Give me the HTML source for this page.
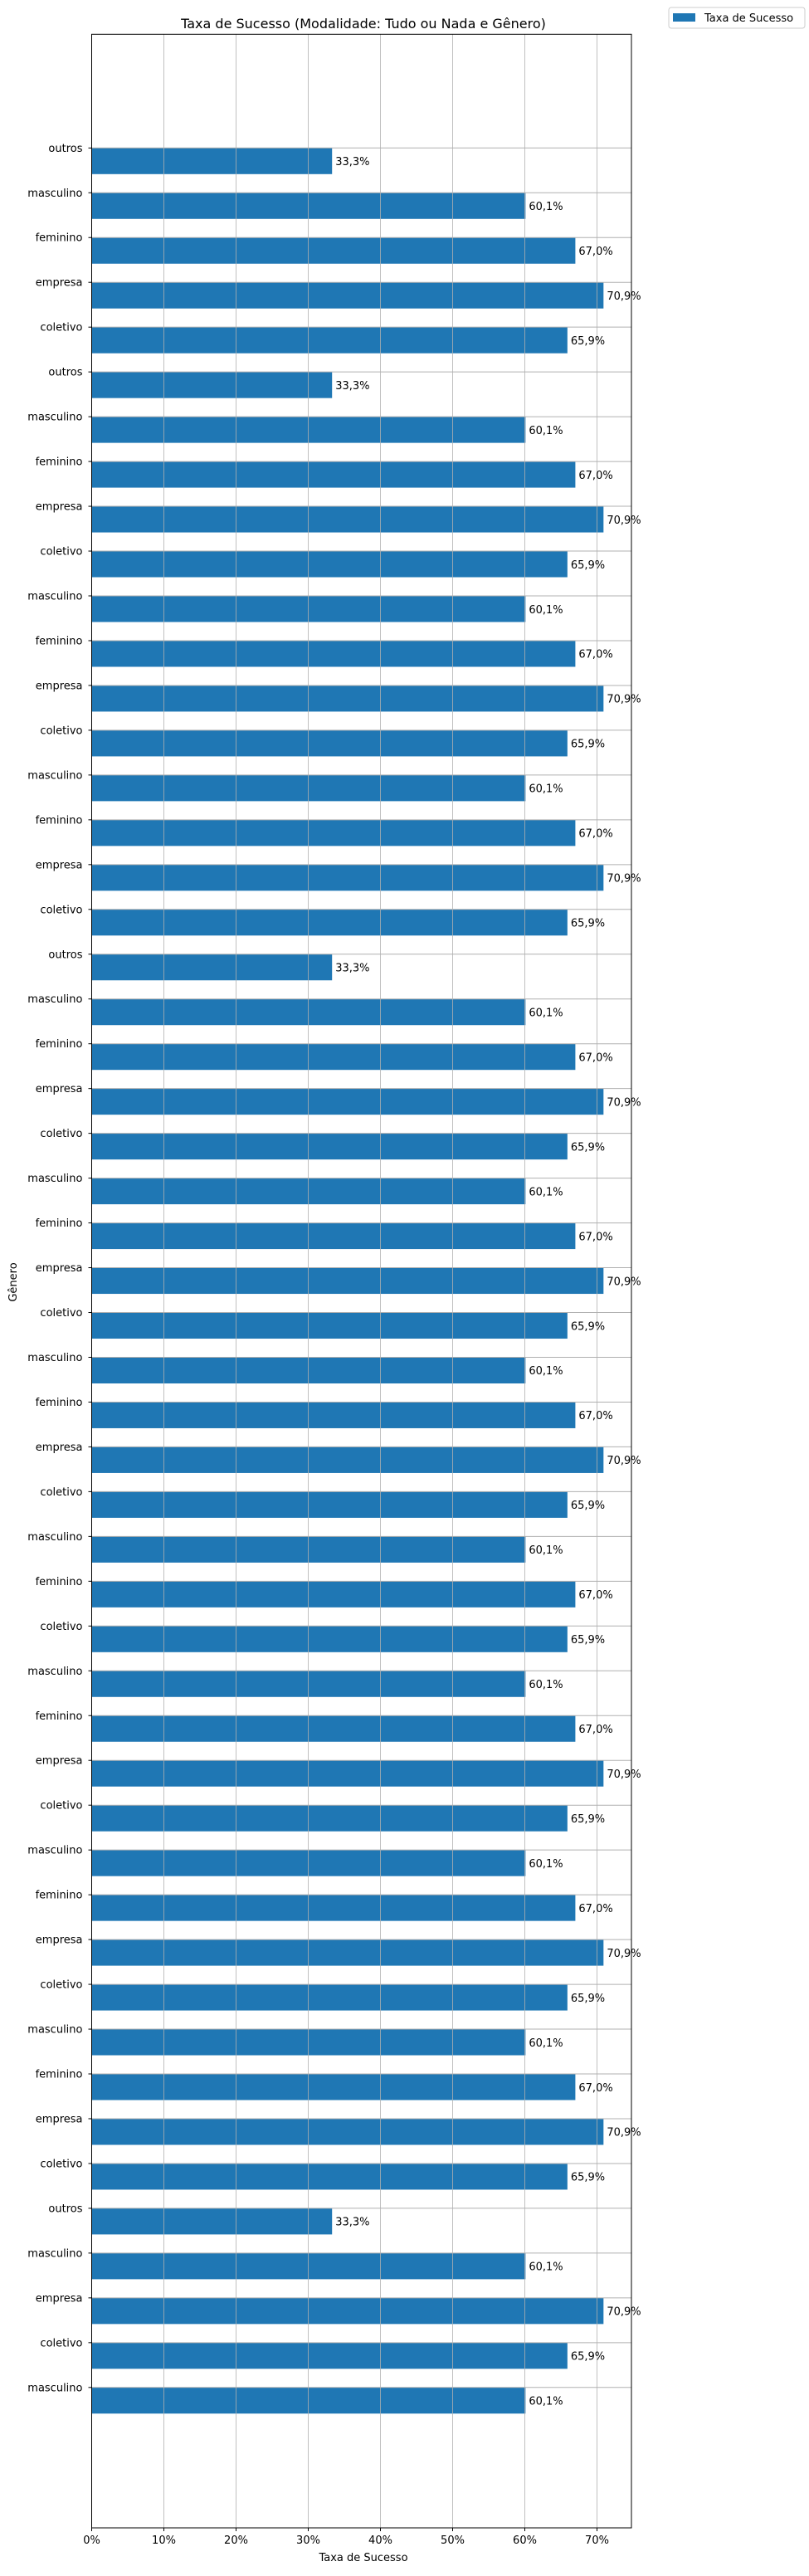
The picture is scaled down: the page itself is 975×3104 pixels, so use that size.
<!DOCTYPE html>
<html><head><meta charset="utf-8"><style>
body{margin:0;background:#fff;}
svg text{font-family:"DejaVu Sans","Liberation Sans",sans-serif;fill:#000;}
</style></head><body>
<svg id="chart" width="975" height="3099" xmlns="http://www.w3.org/2000/svg">
<text x="438" y="34" font-size="16" text-anchor="middle">Taxa de Sucesso (Modalidade: Tudo ou Nada e Gênero)</text>
<g id="bars"></g>
<g id="grid"></g>
<g id="labels"></g>
<g id="axes"></g>
<text x="20" y="1545" font-size="13" text-anchor="middle" transform="rotate(-90 20 1545)">Gênero</text>
<text x="438" y="3086" font-size="13" text-anchor="middle">Taxa de Sucesso</text>
<g>
<rect x="806" y="9" width="164" height="25" rx="3" fill="#fff" stroke="#ccc"/>
<rect x="811" y="16" width="27" height="10" fill="#1f77b4"/>
<text x="849" y="26" font-size="13">Taxa de Sucesso</text>
</g>
</svg>
<script>
const categories=["outros","masculino","feminino","empresa","coletivo","outros","masculino","feminino","empresa","coletivo","masculino","feminino","empresa","coletivo","masculino","feminino","empresa","coletivo","outros","masculino","feminino","empresa","coletivo","masculino","feminino","empresa","coletivo","masculino","feminino","empresa","coletivo","masculino","feminino","coletivo","masculino","feminino","empresa","coletivo","masculino","feminino","empresa","coletivo","masculino","feminino","empresa","coletivo","outros","masculino","empresa","coletivo","masculino"];
const rates={"outros":33.3,"masculino":60.1,"feminino":67.0,"empresa":70.9,"coletivo":65.9};
const values=categories.map(c=>rates[c]);
const xTicks=[0,10,20,30,40,50,60,70];
const NS="http://www.w3.org/2000/svg";
const L=110.5,R=761,T=41.3,B=3046;
const xs=v=>L+v*8.70;
const ys=i=>178.3+i*53.97;
const barH=31.5;
function mk(tag,attrs,parent){const e=document.createElementNS(NS,tag);for(const k in attrs)e.setAttribute(k,attrs[k]);parent.appendChild(e);return e;}
const gb=document.getElementById('bars'),gg=document.getElementById('grid'),gl=document.getElementById('labels'),ga=document.getElementById('axes');
values.forEach((v,i)=>{
 const r=mk('rect',{x:L,y:ys(i),width:xs(v)-L,height:barH,fill:'#1f77b4'},gb);
 
 
 const t=mk('text',{x:xs(v)+4,y:ys(i)+barH/2+5,'font-size':13},gl);
 t.textContent=v.toFixed(1).replace('.',',')+'%';
 
 
 const g=mk('line',{x1:L,x2:R,y1:ys(i),y2:ys(i),stroke:'#b0b0b0','stroke-width':1},gg);
 
 
 mk('line',{x1:L-4,x2:L,y1:ys(i),y2:ys(i),stroke:'#000'},ga);
 const yl=mk('text',{x:L-11,y:ys(i)+4.5,'font-size':13,'text-anchor':'end'},ga);
 yl.textContent=categories[i];
 
 
});
xTicks.forEach(v=>{
 const g=mk('line',{x1:xs(v),x2:xs(v),y1:T,y2:B,stroke:'#b0b0b0','stroke-width':0.8},gg);
 
 
 mk('line',{x1:xs(v),x2:xs(v),y1:B,y2:B+4,stroke:'#000'},ga);
 const t=mk('text',{x:xs(v),y:B+19,'font-size':13,'text-anchor':'middle'},ga);
 t.textContent=v+'%';
 
 
});
const fr=mk('rect',{x:L,y:T,width:R-L,height:B-T,fill:'none',stroke:'#000','stroke-width':1},ga);


</script>
</body></html>
